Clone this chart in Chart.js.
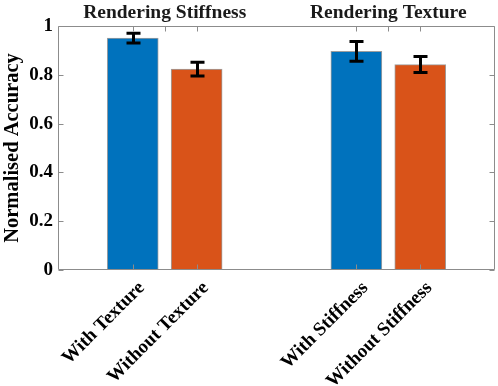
<!DOCTYPE html>
<html><head><meta charset="utf-8">
<script src="https://cdn.jsdelivr.net/npm/chart.js@4/dist/chart.umd.min.js"></script>
<style>html,body{margin:0;padding:0;background:#fff}#wrap{width:498px;height:386px}</style>
</head><body><div id="wrap"><canvas id="c" width="498" height="386"></canvas></div>
<script>
const labels = ['With Texture', 'Without Texture', 'With Stiffness', 'Without Stiffness'];
const positions = [1, 2, 4.5, 5.5];
const values = [0.95, 0.823, 0.896, 0.842];
const errors = [0.02, 0.028, 0.04, 0.033];
const barColors = ['#0072BD', '#D95319', '#0072BD', '#D95319'];
const groupTitles = ['Rendering Stiffness', 'Rendering Texture'];
const groupCenters = [1.5, 5];
const topTicks = [1, 1.5, 2, 4.5, 5, 5.5];
const yTicks = [0, 0.2, 0.4, 0.6, 0.8, 1];

const FONT = '"Liberation Serif", "Times New Roman", serif';
const AXIS = '#8c8c8c';

const decor = {
  id: 'decor',
  afterDatasetsDraw(chart) {
    const ctx = chart.ctx, xs = chart.scales.x, ys = chart.scales.y, a = chart.chartArea;
    ctx.save();
    // error bars
    ctx.strokeStyle = '#000'; ctx.lineWidth = 3; ctx.lineCap = 'butt';
    positions.forEach((p, i) => {
      const x = Math.round(xs.getPixelForValue(p)) + 0.5;
      const y1 = ys.getPixelForValue(values[i] + errors[i]);
      const y2 = ys.getPixelForValue(values[i] - errors[i]);
      ctx.beginPath();
      ctx.moveTo(x, y1); ctx.lineTo(x, y2);
      ctx.moveTo(x - 7, y1); ctx.lineTo(x + 7, y1);
      ctx.moveTo(x - 7, y2); ctx.lineTo(x + 7, y2);
      ctx.stroke();
    });
    // box and ticks
    ctx.strokeStyle = AXIS; ctx.lineWidth = 1;
    const L = Math.round(a.left) + 0.5, R = Math.round(a.right) - 0.5;
    const T = Math.round(a.top) + 0.5, B = Math.round(a.bottom) - 0.5;
    ctx.beginPath();
    ctx.moveTo(L, T); ctx.lineTo(R, T); ctx.lineTo(R, B); ctx.lineTo(L, B); ctx.closePath();
    topTicks.forEach(p => {
      const x = Math.round(xs.getPixelForValue(p)) + 0.5;
      ctx.moveTo(x, T); ctx.lineTo(x, T + 5);
    });
    positions.forEach(p => {
      const x = Math.round(xs.getPixelForValue(p)) + 0.5;
      ctx.moveTo(x, B); ctx.lineTo(x, B - 5);
    });
    yTicks.forEach(v => {
      const y = Math.round(ys.getPixelForValue(v)) + 0.5;
      ctx.moveTo(L, y); ctx.lineTo(L + 5, y);
      ctx.moveTo(R, y); ctx.lineTo(R - 5, y);
    });
    ctx.stroke();
    // group titles
    ctx.fillStyle = '#1a1a1a';
    ctx.font = 'bold 19.5px ' + FONT;
    ctx.textAlign = 'center'; ctx.textBaseline = 'alphabetic';
    groupTitles.forEach((t, i) => {
      ctx.fillText(t, xs.getPixelForValue(groupCenters[i]), 18);
    });
    // rotated category labels
    ctx.fillStyle = '#000';
    ctx.font = 'bold 19px ' + FONT;
    ctx.textAlign = 'right'; ctx.textBaseline = 'middle';
    positions.forEach((p, i) => {
      ctx.save();
      ctx.translate(xs.getPixelForValue(p) + 9, a.bottom + 15);
      ctx.rotate(-Math.PI / 4);
      ctx.fillText(labels[i], 0, 0);
      ctx.restore();
    });
    ctx.restore();
  }
};

new Chart(document.getElementById('c'), {
  type: 'bar',
  data: {
    datasets: [{
      data: positions.map((p, i) => ({ x: p, y: values[i] })),
      backgroundColor: barColors,
      borderColor: 'rgba(40,40,40,0.45)',
      borderWidth: 1,
      barThickness: 51
    }]
  },
  options: {
    responsive: false,
    animation: false,
    devicePixelRatio: 1,
    layout: { padding: { top: 26, right: 3, left: 0, bottom: 0 } },
    plugins: { legend: { display: false }, tooltip: { enabled: false } },
    scales: {
      x: {
        type: 'linear', min: -0.17, max: 6.67, offset: false,
        grid: { display: false, drawTicks: false },
        border: { display: false },
        afterBuildTicks: s => { s.ticks = positions.map(v => ({ value: v })); },
        afterFit: s => { s.height = 116; },
        ticks: { display: false }
      },
      y: {
        min: 0, max: 1,
        grid: { display: false, drawTicks: false },
        border: { display: false },
        afterBuildTicks: s => { s.ticks = yTicks.map(v => ({ value: v })); },
        afterFit: s => { s.width = 58; },
        title: { display: true, text: 'Normalised Accuracy', color: '#000', padding: { top: 0, bottom: 0 },
                 font: { family: FONT, size: 20.5, weight: 'bold' } },
        ticks: {
          padding: 5, color: '#000', font: { family: FONT, size: 19, weight: 'bold' },
          callback: v => (v === 0 || v === 1) ? String(v) : v.toFixed(1)
        }
      }
    }
  },
  plugins: [decor]
});
</script></body></html>
